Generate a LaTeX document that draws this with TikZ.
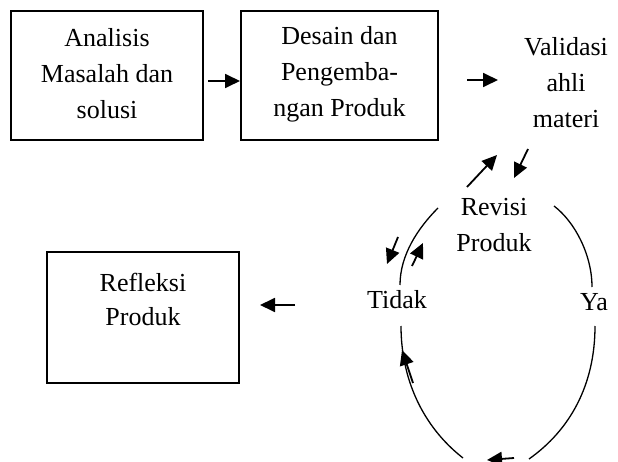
\documentclass[tikz,border=0pt]{standalone}
\usepackage{fontspec}
\setmainfont{Liberation Serif}
\usetikzlibrary{arrows.meta}
\begin{document}
\begin{tikzpicture}[x=1pt,y=-1pt,
  box/.style={draw,line width=1.6pt,inner sep=0pt},
  txt/.style={align=center,font=\fontsize{26}{36}\selectfont,inner sep=0pt},
  arc/.style={line width=1.3pt},
  arr/.style={line width=1.8pt,-{Triangle[length=15pt,width=14pt]}}]
\useasboundingbox (0,0) rectangle (618,462);
% boxes
\node[box,minimum width=192pt,minimum height=129pt] (b1) at (107,75.5) {};
\node[txt] (t1) at (107,74) {Analisis\\Masalah dan\\solusi};
\node[box,minimum width=197pt,minimum height=129pt] (b2) at (339.5,75.5) {};
\node[txt] (t2) at (339.5,74) {Desain dan\\Pengemba-\\ngan Produk};
\node[txt] (val) at (566,83) {Validasi\\ahli\\materi};
\node[txt] (rev) at (494,225) {Revisi\\Produk};
\node[txt] (tidak) at (397,300) {Tidak};
\node[txt] (ya) at (594,302) {Ya};
\node[box,minimum width=192pt,minimum height=131pt] (b3) at (143,317.5) {};
\node[txt,font=\fontsize{26}{34}\selectfont] (t3) at (143,299) {Refleksi\\Produk};
% arrow end points
\coordinate (a1s) at (208,81); \coordinate (a1e) at (240,81);
\coordinate (a2s) at (467,80); \coordinate (a2e) at (498,80);
\coordinate (a3s) at (528,149); \coordinate (a3e) at (514,178);
\coordinate (a4s) at (467,187); \coordinate (a4e) at (497,155);
\coordinate (a5s) at (398,237); \coordinate (a5e) at (387,264);
\coordinate (a6s) at (412,266); \coordinate (a6e) at (423,243);
\coordinate (a7s) at (413,383); \coordinate (a7e) at (402,350);
\coordinate (a8s) at (514,458); \coordinate (a8e) at (487,460);
\coordinate (a9s) at (295,305); \coordinate (a9e) at (260,305);
\foreach \i in {1,...,9} {\draw[arr] (a\i s) -- (a\i e);}
% loop arcs
\coordinate (tl1) at (438,208); \coordinate (tl2) at (400,285);
\coordinate (tr1) at (554,206); \coordinate (tr2) at (592,287);
\coordinate (bl1) at (401,326); \coordinate (bl2) at (463,458);
\coordinate (br1) at (595,326); \coordinate (br2) at (529,459);
\draw[arc] (tl1) .. controls (418,228) and (400,255) .. (tl2);
\draw[arc] (tr1) .. controls (575,222) and (592,255) .. (tr2);
\draw[arc] (bl1) .. controls (401,378) and (422,426) .. (bl2);
\draw[arc] (br1) .. controls (595,385) and (570,430) .. (br2);
\end{tikzpicture}
\end{document}
